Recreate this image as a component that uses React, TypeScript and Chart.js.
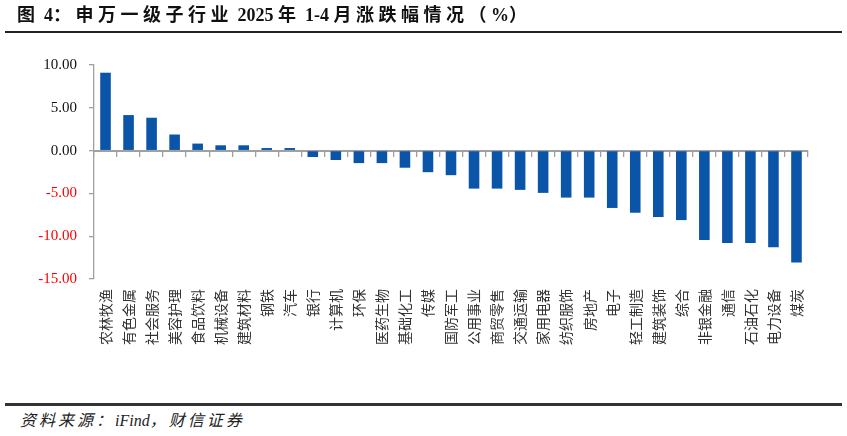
import React, { useEffect, useRef } from "react";
import { Chart, registerables } from "chart.js";

Chart.register(...registerables);

const categories = [
  "农林牧渔", "有色金属", "社会服务", "美容护理", "食品饮料", "机械设备", "建筑材料",
  "钢铁", "汽车", "银行", "计算机", "环保", "医药生物", "基础化工", "传媒", "国防军工",
  "公用事业", "商贸零售", "交通运输", "家用电器", "纺织服饰", "房地产", "电子", "轻工制造",
  "建筑装饰", "综合", "非银金融", "通信", "石油石化", "电力设备", "煤炭",
];

const changes = [
  9.1, 4.15, 3.84, 1.88, 0.82, 0.62, 0.62,
  0.3, 0.3, -0.75, -1.1, -1.46, -1.46, -2.0, -2.52, -2.87,
  -4.44, -4.44, -4.59, -4.94, -5.49, -5.49, -6.7, -7.26,
  -7.76, -8.12, -10.44, -10.79, -10.79, -11.29, -13.06,
];

const yMin = -15;
const yMax = 10;
const yStep = 5;

const W = 847;
const H = 400;

export default function App() {
  const ref = useRef<HTMLCanvasElement | null>(null);

  useEffect(() => {
    document.body.style.margin = "0";
    if (!ref.current) return;
    const chart = new Chart(ref.current, {
      type: "bar",
      data: {
        labels: categories,
        datasets: [
          {
            data: changes,
            backgroundColor: "#0B55A8",
            borderWidth: 0,
            barPercentage: 0.46,
            categoryPercentage: 1,
          },
        ],
      },
      options: {
        animation: false,
        responsive: false,
        devicePixelRatio: 1,
        layout: { padding: { top: 65, right: 39, left: 0, bottom: 0 } },
        plugins: { legend: { display: false }, tooltip: { enabled: false } },
        scales: {
          x: {
            type: "category",
            position: "bottom",
            offset: true,
            grid: { display: false, drawTicks: false, offset: true },
            border: { display: false },
            ticks: {
              minRotation: 90,
              maxRotation: 90,
              autoSkip: false,
              padding: 10,
              color: "#333",
              font: { family: '"Noto Sans CJK SC"', size: 14 },
            },
            afterFit: (s: any) => {
              s.height = H - 279;
            },
          },
          x0: {
            axis: "x",
            type: "category",
            position: { y: 0 },
            offset: true,
            grid: {
              offset: true,
              drawOnChartArea: false,
              drawTicks: true,
              tickLength: 5,
              color: "#A0A0A0",
              lineWidth: 1.3,
            },
            border: { display: true, color: "#A0A0A0", width: 2 },
            ticks: { display: false },
          },
          y: {
            min: yMin,
            max: yMax,
            ticks: {
              stepSize: yStep,
              padding: 12,
              callback: (v: any) => Number(v).toFixed(2),
              color: (ctx: any) => (ctx.tick && ctx.tick.value < 0 ? "#FF0000" : "#111"),
              font: { family: '"Liberation Serif"', size: 15 },
            },
            grid: {
              drawOnChartArea: false,
              drawTicks: true,
              tickLength: 5,
              color: "#A0A0A0",
              lineWidth: 1.3,
            },
            border: { display: true, color: "#A0A0A0", width: 1.3 },
            afterFit: (s: any) => {
              s.width = 94;
            },
          },
        },
      } as any,
    });
    return () => chart.destroy();
  }, []);

  const ls: React.CSSProperties = { letterSpacing: "4.5px" };
  const sls: React.CSSProperties = { letterSpacing: "3px" };

  return (
    <div style={{ position: "absolute", left: 0, top: 0, width: W, height: 436, background: "#fff" }}>
      <canvas ref={ref} width={W} height={H} style={{ position: "absolute", left: 0, top: 0, width: W, height: H }} />
      <div
        style={{
          position: "absolute",
          left: 17,
          top: 4,
          fontSize: 18,
          fontWeight: "bold",
          fontFamily: '"Liberation Serif", "Noto Sans CJK SC", serif',
          color: "#111",
          whiteSpace: "nowrap",
          lineHeight: "22px",
        }}
      >
        <span style={ls}>图</span> 4<span style={ls}>：申万一级子行业</span> 2025 <span style={ls}>年</span> 1-4{" "}
        <span style={ls}>月涨跌幅情况（</span>%<span style={ls}>）</span>
      </div>
      <div style={{ position: "absolute", left: 5, top: 31, width: 837, height: 2, background: "#222" }} />
      <div style={{ position: "absolute", left: 5, top: 403, width: 837, height: 2.5, background: "#333" }} />
      <div
        style={{
          position: "absolute",
          left: 20,
          top: 411,
          fontSize: 16,
          fontStyle: "italic",
          fontFamily: '"Liberation Serif", "Noto Sans CJK SC", serif',
          color: "#222",
          whiteSpace: "nowrap",
          lineHeight: "20px",
        }}
      >
        <span style={sls}>资料来源：</span>iFind<span style={sls}>，财信证券</span>
      </div>
    </div>
  );
}
